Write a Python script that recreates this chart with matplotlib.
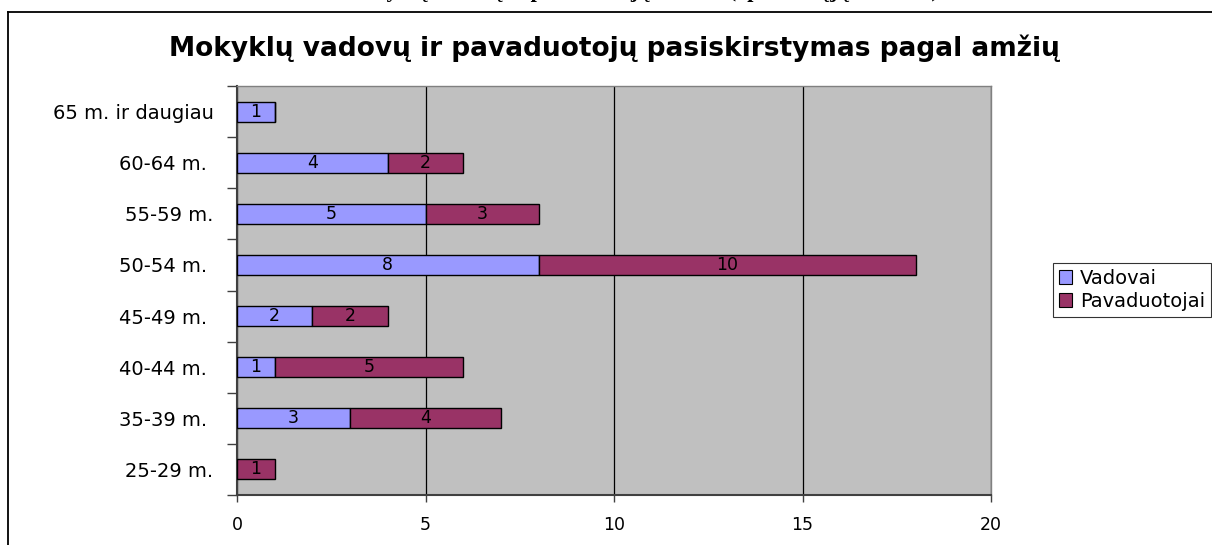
import matplotlib.pyplot as plt
import numpy as np
from matplotlib.lines import Line2D
from matplotlib.patches import Patch

plt.rcParams['font.family'] = ['DejaVu Sans']

# duomenys (nuo apačios į viršų)
categories = ['25-29 m.', '35-39 m. ', '40-44 m. ', '45-49 m. ', '50-54 m. ',
              '55-59 m.', '60-64 m. ', '65 m. ir daugiau']
vadovai = [0, 3, 1, 2, 8, 5, 4, 1]
pavaduotojai = [1, 4, 5, 2, 10, 3, 2, 0]
series_names = ['Vadovai', 'Pavaduotojai']
xticks = [0, 5, 10, 15, 20]

col_v = '#9999FF'
col_p = '#993366'

W, H = 1212, 545
fig = plt.figure(figsize=(W / 100, H / 100), dpi=100)
fig.patch.set_facecolor('white')

# rėmelis (nukirptas dešinėje ir apačioje)
fig.add_artist(Line2D([8 / W, 1], [1 - 12 / H, 1 - 12 / H], color='black', lw=1.3))
fig.add_artist(Line2D([8 / W, 8 / W], [0, 1 - 12 / H], color='black', lw=1.3))

# nukirptas viršutinis užrašas
fig.text(640 / W, 1 + 2.5 / H, 'Mokyklų vadovų ir pavaduotojų amžius (apklaustųjų skaičius)',
         ha='center', va='baseline', fontsize=16, fontweight='bold',
         family=['Liberation Serif', 'DejaVu Serif'])

ax = fig.add_axes([237 / W, 50 / H, 754 / W, 409 / H])
ax.set_facecolor('#C0C0C0')

y = np.arange(len(categories))
bh = 0.39
b1 = ax.barh(y, vadovai, height=bh, color=col_v, edgecolor='black', linewidth=1.0, zorder=3)
b2 = ax.barh(y, pavaduotojai, left=vadovai, height=bh, color=col_p, edgecolor='black',
             linewidth=1.0, zorder=3)

# reikšmės segmentuose
for bars in (b1, b2):
    for bar in bars:
        w = bar.get_width()
        if w > 0:
            ax.text(bar.get_x() + w / 2, bar.get_y() + bar.get_height() / 2, f'{int(w)}',
                    ha='center', va='center', fontsize=12.5, color='black', zorder=4)

ax.set_xlim(0, 20)
ax.set_ylim(-0.5, len(categories) - 0.5)
ax.set_xticks(xticks)
ax.set_xticklabels([str(t) for t in xticks], fontsize=12.5)
ax.xaxis.grid(True, color='black', lw=0.9, zorder=1)
ax.set_axisbelow(True)

ax.set_yticks(y)
ax.set_yticklabels(categories, fontsize=14)
ax.tick_params(axis='y', length=0, pad=17)
ax.set_yticks(np.arange(-0.5, len(categories)), minor=True)
ax.tick_params(axis='y', which='minor', length=7, color='#404040', width=1)
ax.tick_params(axis='x', length=5, color='#404040', width=1, pad=10)

for s in ['top', 'right']:
    ax.spines[s].set_color('#808080')
    ax.spines[s].set_linewidth(1.0)
for s in ['left', 'bottom']:
    ax.spines[s].set_color('#404040')
    ax.spines[s].set_linewidth(1.5)

fig.text(614 / W, 1 - 48 / H, 'Mokyklų vadovų ir pavaduotojų pasiskirstymas pagal amžių',
         ha='center', va='center', fontsize=19, fontweight='bold')

handles = [Patch(facecolor=col_v, edgecolor='black', lw=0.8),
           Patch(facecolor=col_p, edgecolor='black', lw=0.8)]
leg = fig.legend(handles, series_names, loc='center right', bbox_to_anchor=(1.0, 1 - 290 / H),
                 fontsize=14, frameon=True, fancybox=False, edgecolor='black',
                 handlelength=0.7, handleheight=0.7, handletextpad=0.4,
                 borderpad=0.3, labelspacing=0.2, borderaxespad=0.05)
leg.get_frame().set_linewidth(0.8)

fig.savefig('out.png', dpi=100, facecolor='white')
